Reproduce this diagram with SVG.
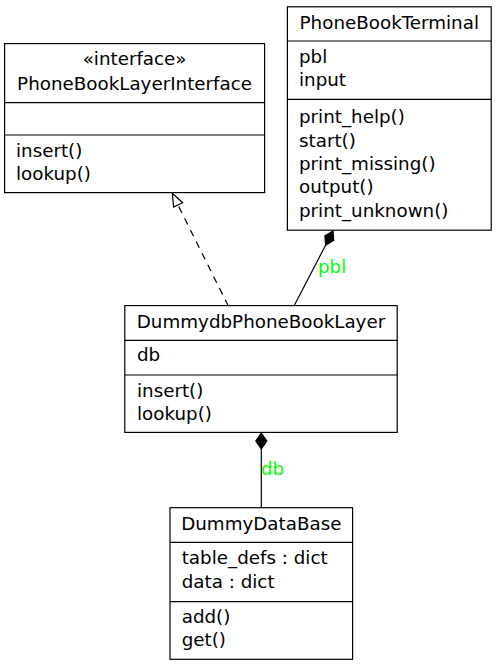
<svg xmlns="http://www.w3.org/2000/svg" width="496" height="667" viewBox="0 0 496 667">
<style>
  .box { fill: #ffffff; stroke: #000000; stroke-width: 1.2; }
  .div { stroke: #000000; stroke-width: 1.2; fill: none; }
  text { font-family: "DejaVu Sans", "Liberation Sans", sans-serif; font-size: 18.3px; fill: #000000; }
  .c { text-anchor: middle; }
  .lbl { fill: #00ff00; }
  .edge { stroke: #000000; stroke-width: 1.2; fill: none; }
</style>
<rect width="496" height="667" fill="#ffffff"/>

<g id="connectors">
  <path class="edge" d="M228.3,306 L177.5,204" stroke-dasharray="7,6"/>
  <polygon points="172.3,193.3 182.6,202.7 173.6,207.1" fill="#ffffff" stroke="#000000" stroke-width="1.2"/>
  <path class="edge" d="M294,306 L325.6,245.2"/>
  <polygon points="333,231 324.9,235.8 325.6,245.2 333.7,240.4" fill="#000000" stroke="#000000" stroke-width="1.2"/>
  <text class="lbl" x="318" y="273.3">pbl</text>
  <path class="edge" d="M261.3,449 L261.3,507.7"/>
  <polygon points="261.3,433 266.8,441 261.3,449 255.8,441" fill="#000000" stroke="#000000" stroke-width="1.2"/>
  <text class="lbl" x="261" y="475">db</text>
</g>

<g id="PhoneBookLayerInterface">
  <rect class="box" x="4.6" y="43.6" width="260" height="149"/>
  <text class="c" x="134.6" y="65">«interface»</text>
  <text class="c" x="134.6" y="90.3">PhoneBookLayerInterface</text>
  <line class="div" x1="4.6" y1="102.7" x2="264.6" y2="102.7"/>
  <line class="div" x1="4.6" y1="135" x2="264.6" y2="135"/>
  <text x="16" y="157">insert()</text>
  <text x="16" y="180.3">lookup()</text>
</g>

<g id="PhoneBookTerminal">
  <rect class="box" x="287.4" y="6.8" width="203.8" height="223.4"/>
  <text class="c" x="389.3" y="29.3">PhoneBookTerminal</text>
  <line class="div" x1="287.4" y1="41" x2="491.2" y2="41"/>
  <text x="299" y="63.3">pbl</text>
  <text x="299" y="86.3">input</text>
  <line class="div" x1="287.4" y1="99.4" x2="491.2" y2="99.4"/>
  <text x="299" y="123.3">print_help()</text>
  <text x="299" y="146.6">start()</text>
  <text x="299" y="169.9">print_missing()</text>
  <text x="299" y="193.2">output()</text>
  <text x="299" y="216.5">print_unknown()</text>
</g>

<g id="DummydbPhoneBookLayer">
  <rect class="box" x="124.8" y="305.6" width="272.4" height="126.8"/>
  <text class="c" x="261" y="327.7">DummydbPhoneBookLayer</text>
  <line class="div" x1="124.8" y1="340.3" x2="397.2" y2="340.3"/>
  <text x="137" y="361.3">db</text>
  <line class="div" x1="124.8" y1="375" x2="397.2" y2="375"/>
  <text x="137" y="396.6">insert()</text>
  <text x="137" y="419.9">lookup()</text>
</g>

<g id="DummyDataBase">
  <rect class="box" x="170" y="507.7" width="182.6" height="151.6"/>
  <text class="c" x="261.3" y="530">DummyDataBase</text>
  <line class="div" x1="170" y1="542.4" x2="352.6" y2="542.4"/>
  <text x="181.7" y="564.3">table_defs : dict</text>
  <text x="181.7" y="587.6">data : dict</text>
  <line class="div" x1="170" y1="601.7" x2="352.6" y2="601.7"/>
  <text x="181.7" y="622.8">add()</text>
  <text x="181.7" y="646.2">get()</text>
</g>
</svg>
